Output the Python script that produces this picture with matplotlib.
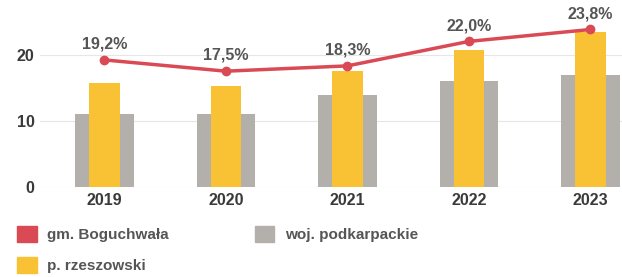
import matplotlib.pyplot as plt
import numpy as np

plt.rcParams['font.family'] = ['Liberation Sans', 'DejaVu Sans']

lata = ['2019', '2020', '2021', '2022', '2023']
boguchwala = [19.2, 17.5, 18.3, 22.0, 23.8]
rzeszowski = [15.7, 15.2, 17.6, 20.7, 23.4]
podkarpackie = [11.0, 11.0, 13.9, 16.0, 16.9]
etykiety = ['19,2%', '17,5%', '18,3%', '22,0%', '23,8%']

czerwony = '#d94a55'
zolty = '#f8c234'
szary = '#b3afab'
tekst = '#3a3a3a'

fig = plt.figure(figsize=(6.22, 2.77), dpi=100)
ax = fig.add_axes([40/622, 90/277, 582/622, 182/277])

x = np.arange(len(lata))
ax.bar(x, podkarpackie, width=0.48, color=szary, zorder=2)
ax.bar(x, rzeszowski, width=0.25, color=zolty, zorder=3)
ax.plot(x, boguchwala, color=czerwony, lw=2.5, marker='o', markersize=6, zorder=4)

for i in range(len(lata)):
    ax.annotate(etykiety[i], (x[i], boguchwala[i]), xytext=(0, 6), textcoords='offset points',
                ha='center', va='bottom', fontsize=11.5, fontweight='bold', color='#555555')

ax.set_ylim(0, 27.5)
ax.set_xlim(-0.53, 4.26)
ax.set_yticks([0, 10, 20])
ax.set_xticks(x)
ax.set_xticklabels(lata)
ax.tick_params(length=0, labelsize=11.5, labelcolor=tekst, pad=4)
for lab in ax.get_xticklabels() + ax.get_yticklabels():
    lab.set_fontweight('bold')
for s in ax.spines.values():
    s.set_visible(False)
ax.yaxis.grid(True, color='#e6e6e6', lw=0.8, zorder=0)

uchwyty = [plt.Rectangle((0, 0), 1, 1, color=czerwony),
           plt.Rectangle((0, 0), 1, 1, color=zolty),
           plt.Rectangle((0, 0), 1, 1, color=szary)]
nazwy = ['gm. Boguchwała', 'p. rzeszowski', 'woj. podkarpackie']
fig.legend(uchwyty, nazwy, ncol=2, loc='upper left', bbox_to_anchor=(0.005, 0.235),
           frameon=False, handlelength=1.3, handleheight=1.3,
           columnspacing=5.6, labelspacing=0.95, handletextpad=0.7,
           labelcolor='#555555', prop={'weight': 'bold', 'size': 11})

fig.savefig('out.png', dpi=100)
